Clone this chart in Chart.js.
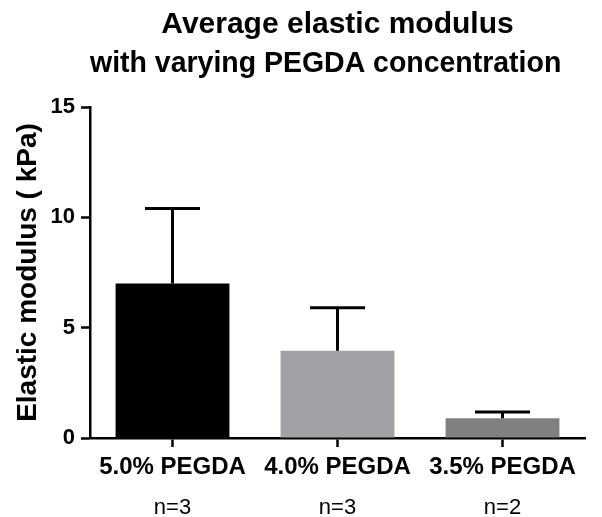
<!DOCTYPE html>
<html>
<head>
<meta charset="utf-8">
<script src="https://cdn.jsdelivr.net/npm/chart.js@4"></script>
<style>
  html, body { margin: 0; padding: 0; background: #fff; }
  #wrap { width: 602px; height: 517px; position: relative; }
</style>
</head>
<body>
<div id="wrap"><canvas id="modulusChart"></canvas></div>
<script>
// datos
const groups = ['5.0% PEGDA', '4.0% PEGDA', '3.5% PEGDA'];
const sampleSizes = ['n=3', 'n=3', 'n=2'];
const meanModulus = [7.0, 3.95, 0.9];
const errModulus = [3.4, 1.95, 0.28];
const barColors = ['#000000', '#a2a2a6', '#808080'];
const yTicks = [0, 5, 10, 15];

const FONT = "'Liberation Sans', Arial, sans-serif";

// barras de error (solo hacia arriba)
const errorBars = {
    id: 'errorBars',
    afterDatasetsDraw(chart, args, opts) {
        const ctx = chart.ctx;
        const yScale = chart.scales.y;
        const meta = chart.getDatasetMeta(0);
        ctx.save();
        ctx.strokeStyle = '#000';
        ctx.lineWidth = opts.width;
        meta.data.forEach((bar, i) => {
            const top = yScale.getPixelForValue(meanModulus[i] + errModulus[i]);
            ctx.beginPath();
            ctx.moveTo(bar.x, bar.y);
            ctx.lineTo(bar.x, top);
            ctx.moveTo(bar.x - opts.cap / 2, top);
            ctx.lineTo(bar.x + opts.cap / 2, top);
            ctx.stroke();
        });
        ctx.restore();
    }
};

const ctx = document.getElementById('modulusChart').getContext('2d');

const modulusChart = new Chart(ctx, {
    type: 'bar',
    data: {
        labels: groups,
        datasets: [{
            label: 'Elastic modulus',
            data: meanModulus,
            backgroundColor: barColors,
            borderWidth: 0,
            categoryPercentage: 1,
            barPercentage: 0.69
        }]
    },
    plugins: [errorBars],
    options: {
        responsive: true,
        maintainAspectRatio: false,
        animation: false,
        layout: { padding: { left: 0, right: 17, top: 0, bottom: 0 } },
        plugins: {
            legend: { display: false },
            tooltip: { enabled: false },
            title: {
                display: true,
                fullSize: false,
                text: ['Average elastic modulus', 'with varying PEGDA concentration   '],
                color: '#000',
                font: { family: FONT, size: 30, weight: 'bold', lineHeight: 1.3 },
                padding: { top: 5, bottom: 24 }
            },
            errorBars: { width: 3, cap: 55 }
        },
        scales: {
            x: {
                weight: 0,
                grid: {
                    offset: false,
                    drawOnChartArea: false,
                    drawTicks: true,
                    tickLength: 9,
                    tickColor: '#000',
                    tickWidth: 2.5
                },
                border: { color: '#000', width: 2.5 },
                ticks: {
                    color: '#000',
                    padding: 6,
                    maxRotation: 0,
                    font: { family: FONT, size: 24, weight: 'bold' }
                },
                afterFit(scale) { scale.height = 40; }
            },
            x2: {
                type: 'category',
                position: 'bottom',
                weight: 1,
                labels: sampleSizes,
                offset: true,
                grid: { display: false, drawTicks: false },
                border: { display: false },
                ticks: {
                    color: '#000',
                    padding: 17,
                    maxRotation: 0,
                    font: { family: FONT, size: 22 }
                },
                afterFit(scale) { scale.height = 39; }
            },
            y: {
                min: 0,
                max: 15,
                afterBuildTicks(scale) {
                    scale.ticks = yTicks.map(v => ({ value: v }));
                },
                grid: {
                    drawOnChartArea: false,
                    drawTicks: true,
                    tickLength: 9,
                    tickColor: '#000',
                    tickWidth: 2.5
                },
                border: { color: '#000', width: 2.5 },
                ticks: {
                    color: '#000',
                    padding: 6,
                    font: { family: FONT, size: 22, weight: 'bold' }
                },
                title: {
                    display: true,
                    text: 'Elastic modulus ( kPa)',
                    color: '#000',
                    font: { family: FONT, size: 28, weight: 'bold' },
                    padding: { top: 11, bottom: 0 }
                },
                afterFit(scale) { scale.width = 90; }
            }
        }
    }
});
</script>
</body>
</html>
